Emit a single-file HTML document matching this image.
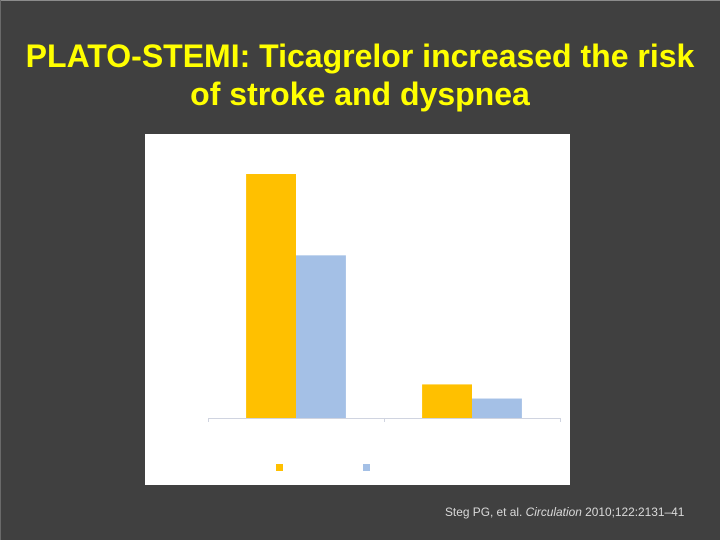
<!DOCTYPE html>
<html>
<head>
<meta charset="utf-8">
<style>
html,body{margin:0;padding:0;width:720px;height:540px;overflow:hidden;background:#404040}
#slide{position:relative;width:720px;height:540px;background:#404040;font-family:"Liberation Sans",sans-serif}
#edge{position:absolute;left:0;top:0;width:720px;height:1px;background:#8c8c8c}
#edge-left{position:absolute;left:0;top:0;width:1px;height:540px;background:#6a6a6a}
#title{position:absolute;left:0;top:37px;width:720px;margin:0;text-align:center;font-size:32px;line-height:38px;font-weight:bold;color:#ffff00}
#cite{position:absolute;left:445px;top:505px;font-size:11.9px;line-height:14px;color:#d9d9d9;white-space:nowrap}
#chart{position:absolute;left:0;top:0}
</style>
</head>
<body>
<div id="slide">
<div id="edge"></div>
<div id="edge-left"></div>
<h1 id="title">PLATO-STEMI: Ticagrelor increased the risk<br>of stroke and dyspnea</h1>
<svg id="chart" width="720" height="540" viewBox="0 0 720 540"></svg>
<div id="cite">Steg PG, et al. <i>Circulation</i> 2010;122:2131&#8211;41</div>
</div>
<script>
var categories = ["Dyspnea", "Stroke"];
var seriesTicagrelor = [13.8, 1.9];
var seriesClopidogrel = [9.2, 1.1];
var seriesNames = ["Ticagrelor", "Clopidogrel"];

var NS = "http://www.w3.org/2000/svg";
var svg = document.getElementById("chart");
var COLORS = ["#ffc000", "#a4c0e6"];
var PANEL = {x: 145, y: 134, w: 425, h: 351};
var PLOT = {left: 208, right: 560, base: 418};
var PX_PER_UNIT = 17.68;

function make(tag, attrs) {
  var el = document.createElementNS(NS, tag);
  for (var k in attrs) { el.setAttribute(k, attrs[k]); }
  svg.appendChild(el);
  return el;
}
function yScale(v) { return PLOT.base - v * PX_PER_UNIT; }
function bandWidth() { return (PLOT.right - PLOT.left) / categories.length; }
function xBand(i) { return PLOT.left + i * bandWidth(); }

var panel = make("rect", {x: PANEL.x, y: PANEL.y, width: PANEL.w, height: PANEL.h, fill: "#ffffff"});



var allSeries = [seriesTicagrelor, seriesClopidogrel];
var barW = bandWidth() * 0.2835;
allSeries.forEach(function (values, s) {
  values.forEach(function (v, i) {
    var center = xBand(i) + bandWidth() / 2;
    var r = make("rect", {
      x: center - barW + s * barW,
      y: yScale(v),
      width: barW,
      height: PLOT.base - yScale(v),
      fill: COLORS[s]
    });
    
    
  });
});

var axis = make("line", {x1: PLOT.left, x2: PLOT.right, y1: PLOT.base + 0.5, y2: PLOT.base + 0.5, stroke: "#d0d4e0", "stroke-width": 1});



for (var t = 0; t <= categories.length; t++) {
  var tx = Math.round(xBand(t)) + 0.5;
  var tick = make("line", {x1: tx, x2: tx, y1: PLOT.base, y2: PLOT.base + 4, stroke: "#d0d4e0", "stroke-width": 1});
  
  
}

categories.forEach(function (c, i) {
  var label = make("text", {
    x: xBand(i) + bandWidth() / 2,
    y: PLOT.base + 18,
    "text-anchor": "middle",
    "font-size": 11,
    "font-family": "Liberation Sans, sans-serif",
    fill: "#ffffff"
  });
  label.textContent = c;
  
  
});

seriesNames.forEach(function (n, s) {
  var lx = 276 + s * 87;
  var swatch = make("rect", {x: lx, y: 464, width: 7, height: 7, fill: COLORS[s]});
  
  
  var text = make("text", {
    x: lx + 12,
    y: 471,
    "font-size": 11,
    "font-family": "Liberation Sans, sans-serif",
    fill: "#ffffff"
  });
  text.textContent = n;
  
  
});
</script>
</body>
</html>
